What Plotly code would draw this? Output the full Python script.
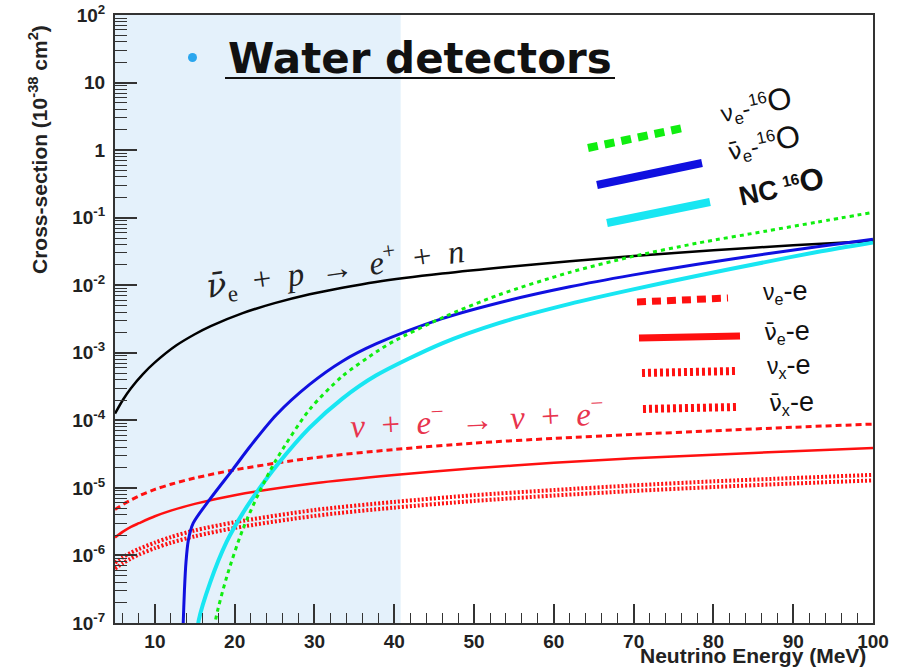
import plotly.graph_objects as go

# ---------------- data ----------------
# inverse beta decay  anti-nu_e + p -> e+ + n
E_ibd = [5, 6, 7, 8.5, 10, 12.7, 15, 17, 21, 25, 29.4, 33.5, 37.7, 46, 54.4, 62, 70, 80, 90, 100]
xs_ibd = [1.26e-4, 2.02e-4, 2.99e-4, 4.84e-4, 7.2e-4, 1.29e-3, 1.88e-3, 2.48e-3, 3.86e-3, 5.43e-3,
          7.36e-3, 9.2e-3, 1.12e-2, 1.49e-2, 1.88e-2, 2.26e-2, 2.7e-2, 3.28e-2, 3.9e-2, 4.53e-2]

# anti-nu_e - 16O
E_anue_O = [13.4, 13.55, 13.7, 13.9, 14.2, 14.8, 16.9, 19.8, 22, 25.2, 29.4, 33.5, 37.7, 46,
            54.4, 62, 69.8, 78, 86.5, 93, 100]
xs_anue_O = [3e-8, 1e-7, 3e-7, 8e-7, 1.7e-6, 3.0e-6, 6.8e-6, 1.9e-5, 4.2e-5, 1.2e-4, 3.4e-4,
             7.5e-4, 1.35e-3, 3.2e-3, 6.0e-3, 9.5e-3, 1.41e-2, 2.04e-2, 2.9e-2, 3.7e-2, 4.8e-2]

# NC 16O
E_nc_O = [15.2, 15.5, 16.9, 19, 21, 23.1, 25.2, 29.4, 33.5, 37.7, 46, 53.1, 62, 69.8, 78, 86.5, 93, 100]
xs_nc_O = [5e-8, 1.1e-7, 3.9e-7, 1.6e-6, 4.2e-6, 9.8e-6, 2.1e-5, 7.8e-5, 2.1e-4, 4.6e-4, 1.38e-3,
           2.75e-3, 5.3e-3, 8.6e-3, 1.38e-2, 2.2e-2, 3.1e-2, 4.3e-2]

# nu_e - 16O
E_nue_O = [17.3, 17.6, 19, 21, 23.1, 25.2, 29.4, 33.5, 37.7, 39.8, 46, 53.1, 62, 69.8, 78, 86.5, 93, 100]
xs_nue_O = [5e-8, 1.1e-7, 4.8e-7, 2.4e-6, 8.7e-6, 2.6e-5, 1.45e-4, 4.5e-4, 1.02e-3, 1.45e-3, 3.3e-3,
            7.2e-3, 1.55e-2, 2.65e-2, 4.2e-2, 6.3e-2, 8.6e-2, 1.2e-1]

# neutrino - electron elastic scattering
E_es = [5, 6, 7, 8, 10, 12, 15, 20, 30, 40, 50, 60, 70, 80, 90, 100]
xs_nue_e = [4.8e-6, 5.7e-6, 6.6e-6, 7.6e-6, 9.5e-6, 1.13e-5, 1.4e-5, 1.85e-5, 2.8e-5, 3.7e-5,
            4.6e-5, 5.4e-5, 6.2e-5, 7.0e-5, 7.9e-5, 8.8e-5]
xs_anue_e = [1.85e-6, 2.25e-6, 2.65e-6, 3.0e-6, 3.8e-6, 4.6e-6, 5.8e-6, 7.8e-6, 1.17e-5, 1.55e-5,
             1.95e-5, 2.35e-5, 2.75e-5, 3.1e-5, 3.5e-5, 3.9e-5]
xs_nux_e = [7.8e-7, 9.4e-7, 1.1e-6, 1.25e-6, 1.55e-6, 1.87e-6, 2.35e-6, 3.1e-6, 4.7e-6, 6.2e-6,
            7.8e-6, 9.3e-6, 1.09e-5, 1.25e-5, 1.4e-5, 1.56e-5]
xs_anux_e = [6.4e-7, 7.7e-7, 9.0e-7, 1.03e-6, 1.28e-6, 1.54e-6, 1.92e-6, 2.55e-6, 3.85e-6, 5.1e-6,
             6.4e-6, 7.7e-6, 9.0e-6, 1.03e-5, 1.16e-5, 1.29e-5]

# axes
x_tick_vals = [10, 20, 30, 40, 50, 60, 70, 80, 90, 100]
x_tick_text = ["10", "20", "30", "40", "50", "60", "70", "80", "90", "100"]
y_tick_vals = [1e-7, 1e-6, 1e-5, 1e-4, 1e-3, 1e-2, 1e-1, 1, 10, 100]
y_tick_text = ["10<sup>-7</sup>", "10<sup>-6</sup>", "10<sup>-5</sup>", "10<sup>-4</sup>",
               "10<sup>-3</sup>", "10<sup>-2</sup>", "10<sup>-1</sup>", "1", "10", "10<sup>2</sup>"]
y_minor_vals = [k * 10.0 ** p for p in range(-7, 2) for k in range(2, 10)]
shade_range = [5, 40.8]

# ---------------- figure ----------------
RED = "#ff1010"
fig = go.Figure()

def add(x, y, color, width, dash="solid"):
    fig.add_trace(go.Scatter(x=x, y=y, mode="lines", showlegend=False, hoverinfo="skip",
                             line=dict(color=color, width=width, dash=dash, shape="spline", smoothing=0.8)))

add(E_es, xs_nux_e, RED, 4, "2px,2px")
add(E_es, xs_anux_e, RED, 4, "2px,2px")
add(E_es, xs_anue_e, RED, 2.5)
add(E_es, xs_nue_e, RED, 3, "6px,4px")
add(E_ibd, xs_ibd, "#000000", 2.5)
add(E_nc_O, xs_nc_O, "#18e6f2", 4)
add(E_anue_O, xs_anue_O, "#1010e0", 3)
add(E_nue_O, xs_nue_O, "#10ee10", 3, "4px,4px")

X0, X1, Y0, Y1 = 115, 873, 15, 623
def px(x):
    return (x - X0) / (X1 - X0)
def py(y):
    return (Y1 - y) / (Y1 - Y0)

shapes = [
    dict(type="rect", xref="x", yref="paper", x0=shade_range[0], x1=shade_range[1], y0=0, y1=1,
         fillcolor="#e4f1fb", line=dict(width=0), layer="below"),
    # title underline and bullet
    dict(type="line", xref="paper", yref="paper", x0=px(225), x1=px(615), y0=py(78), y1=py(78),
         line=dict(color="#111111", width=2)),
    dict(type="circle", xref="paper", yref="paper", x0=px(188), x1=px(197), y0=py(62), y1=py(53),
         fillcolor="#2aa6ee", line=dict(width=0)),
    # 16O legend (tilted)
    dict(type="line", xref="paper", yref="paper", x0=px(588), y0=py(148), x1=px(683), y1=py(128),
         line=dict(color="#10ee10", width=8, dash="10px,7px")),
    dict(type="line", xref="paper", yref="paper", x0=px(597), y0=py(185), x1=px(702), y1=py(163),
         line=dict(color="#1010e0", width=8)),
    dict(type="line", xref="paper", yref="paper", x0=px(607), y0=py(223), x1=px(710), y1=py(202),
         line=dict(color="#18e6f2", width=8)),
    # electron scattering legend
    dict(type="line", xref="paper", yref="paper", x0=px(637), y0=py(302), x1=px(728), y1=py(298),
         line=dict(color=RED, width=7, dash="9px,6px")),
    dict(type="line", xref="paper", yref="paper", x0=px(639), y0=py(338), x1=px(740), y1=py(336),
         line=dict(color=RED, width=7)),
    dict(type="line", xref="paper", yref="paper", x0=px(642), y0=py(373), x1=px(737), y1=py(371),
         line=dict(color=RED, width=8, dash="3px,3px")),
    dict(type="line", xref="paper", yref="paper", x0=px(643), y0=py(409), x1=px(738), y1=py(407),
         line=dict(color=RED, width=8, dash="3px,3px")),
]

SANS = "Liberation Sans"
SERIF = "Liberation Serif"
BIG = '<span style="font-size:31px">'
MID = '<span style="font-size:27px">'
NUBAR = '<span style="font-family:DejaVu Sans">ν̄</span>'
NUBAR_SERIF = '<span style="font-family:DejaVu Serif">ν̄</span>'


def ann(text, x, y, size, family=SANS, color="#111111", angle=0, weight="normal", xanchor="center"):
    return dict(text=text, x=px(x), y=py(y), xref="paper", yref="paper", showarrow=False,
                xanchor=xanchor, yanchor="middle", textangle=angle,
                font=dict(family=family, size=size, color=color, weight=weight))


annotations = [
    ann("Water detectors", 420, 58, 42, family="DejaVu Sans", weight="bold"),
    ann("<i>" + NUBAR_SERIF + "</i><sub>e</sub>\u2002+\u2002<i>p</i>\u2002→\u2002<i>e</i><sup>+</sup>\u2002+\u2002<i>n</i>",
        335, 268, 33, family=SERIF, color="#222222", angle=-8),
    ann("<i>ν</i>\u2002+\u2002<i>e</i><sup>−</sup>\u2002→\u2002<i>ν</i>\u2002+\u2002<i>e</i><sup>−</sup>",
        477, 417, 33, family=SERIF, color="#e8344e", angle=-3),
    ann("ν<sub>e</sub>-<sup>16</sup>" + BIG + "O</span>", 756, 105, 24, angle=-12),
    ann(NUBAR + "<sub>e</sub>-<sup>16</sup>" + BIG + "O</span>", 764, 143, 24, angle=-12),
    ann(MID + "NC</span> <sup>16</sup>" + BIG + "O</span>", 781, 186, 22, angle=-12, weight="bold"),
    ann("ν<sub>e</sub>" + MID + "-e</span>", 785, 292, 23),
    ann(NUBAR + "<sub>e</sub>" + MID + "-e</span>", 787, 332, 23),
    ann("ν<sub>x</sub>" + MID + "-e</span>", 789, 366, 23),
    ann(NUBAR + "<sub>x</sub>" + MID + "-e</span>", 791, 403, 23),
    # axis titles
    ann("Cross-section (10<sup>-38</sup> cm<sup>2</sup>)", 38, 150, 21, color="#222222", angle=-90, weight="bold"),
    ann("Neutrino Energy (MeV)", 868, 655, 21, color="#222222", weight="bold", xanchor="right"),
]

fig.update_layout(
    width=912, height=671,
    margin=dict(l=115, r=39, t=15, b=48, pad=0),
    paper_bgcolor="white", plot_bgcolor="white",
    shapes=shapes, annotations=annotations,
    xaxis=dict(range=[5, 100], tickmode="array", tickvals=x_tick_vals, ticktext=x_tick_text,
               ticks="inside", ticklen=19, tickwidth=1.5, tickcolor="#333333", automargin=False,
               showline=True, linecolor="#333333", linewidth=2, mirror=True,
               showgrid=False, zeroline=False,
               tickfont=dict(family=SANS, size=19, color="#222222", weight="bold"),
               minor=dict(ticks="inside", ticklen=10, tickwidth=1.2, tickcolor="#333333", dtick=2, tick0=0,
                          showgrid=False)),
    yaxis=dict(type="log", range=[-7, 2], tickmode="array", tickvals=y_tick_vals, ticktext=y_tick_text,
               ticks="inside", ticklen=22, tickwidth=1.5, tickcolor="#333333", automargin=False,
               showline=True, linecolor="#333333", linewidth=2, mirror=True,
               showgrid=False, zeroline=False, ticklabelstandoff=4,
               tickfont=dict(family=SANS, size=19, color="#222222", weight="bold"),
               minor=dict(ticks="inside", ticklen=12, tickwidth=1.2, tickcolor="#333333",
                          tickmode="array", tickvals=y_minor_vals, showgrid=False)),
)

fig.write_html("out.html")
